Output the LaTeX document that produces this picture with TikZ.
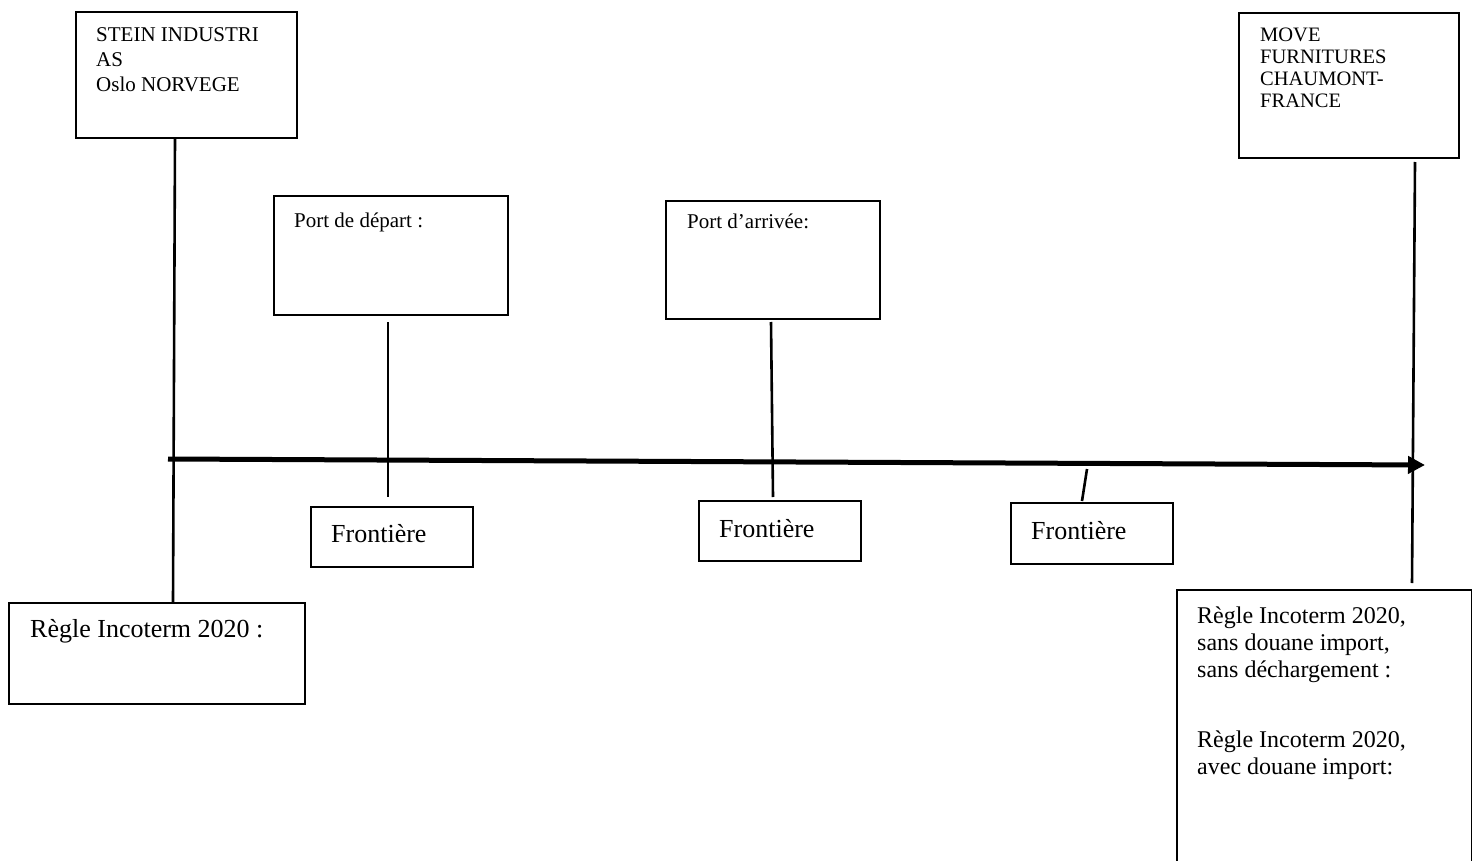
\documentclass[tikz,border=0pt]{standalone}
\usepackage{fontspec}
\setmainfont{Liberation Serif}
\usetikzlibrary{arrows.meta,calc}
\begin{document}
\begin{tikzpicture}[x=1pt,y=-1pt,
  box/.style={draw, line width=1.7pt, inner sep=0pt, anchor=north west},
  small/.style={inner sep=0pt, anchor=base west, align=left, font=\fontsize{21}{25}\selectfont},
  big/.style={inner sep=0pt, anchor=base west, align=left, font=\fontsize{26}{30}\selectfont},
  link/.style={line width=2.6pt}]
\useasboundingbox (0,0) rectangle (1472,861);
% boxes
\node[box, minimum width=221, minimum height=126] (stein) at (75,11) {};
\node[box, minimum width=220, minimum height=145] (move) at (1238,12) {};
\node[box, minimum width=234, minimum height=119] (portd) at (273,195) {};
\node[box, minimum width=214, minimum height=118] (porta) at (665,200) {};
\node[box, minimum width=162, minimum height=60] (f1) at (310,506) {};
\node[box, minimum width=162, minimum height=60] (f2) at (698,500) {};
\node[box, minimum width=162, minimum height=61] (f3) at (1010,502) {};
\node[box, minimum width=296, minimum height=101] (regle) at (8,602) {};
\node[box, minimum width=295, minimum height=300] (regler) at (1176,589) {};
% texts (anchor = baseline of the last line)
\node[small, font=\fontsize{21}{25}\selectfont] (steint) at (96,92) {STEIN INDUSTRI\\AS\\Oslo NORVEGE};
\node[small, font=\fontsize{20.5}{22}\selectfont] (movet) at (1260,108) {MOVE\\FURNITURES\\CHAUMONT-\\FRANCE};
\node[small] (portdt) at (294,227) {Port de départ :};
\node[small] (portat) at (687,229) {Port d’arrivée:};
\node[big] (f1t) at (331,542) {Frontière};
\node[big] (f2t) at (719,537) {Frontière};
\node[big] (f3t) at (1031,539) {Frontière};
\node[big] (reglet) at (30,637) {Règle Incoterm 2020 :};
\node[small, font=\fontsize{24}{27}\selectfont] (reglert1) at (1197,677) {Règle Incoterm 2020,\\sans douane import,\\sans déchargement :};
\node[small, font=\fontsize{24}{27}\selectfont] (reglert2) at (1197,774) {Règle Incoterm 2020,\\avec douane import:};
% free connector ends
\coordinate (a1) at (388,322);
\coordinate (a2) at (388,497);
\coordinate (b1) at (771,322);
\coordinate (b2) at (773,497);
\coordinate (t1) at (1087,469);
\coordinate (t2) at (1082,501);
\coordinate (m1) at (1415,162);
\coordinate (m2) at (1412,583);
\coordinate (s0) at (168,459);
\coordinate (s1) at (1425,465);
% connectors
\draw[link] ($(stein.south west)+(100,0)$) -- ($(regle.north west)+(165,0)$);
\draw[link] (a1) -- (a2);
\draw[link] (b1) -- (b2);
\draw[link] (t1) -- (t2);
\draw[link] (m1) -- (m2);
\draw[line width=5pt, -{Triangle[length=17pt,width=17pt]}] (s0) -- (s1);
\end{tikzpicture}
\end{document}
